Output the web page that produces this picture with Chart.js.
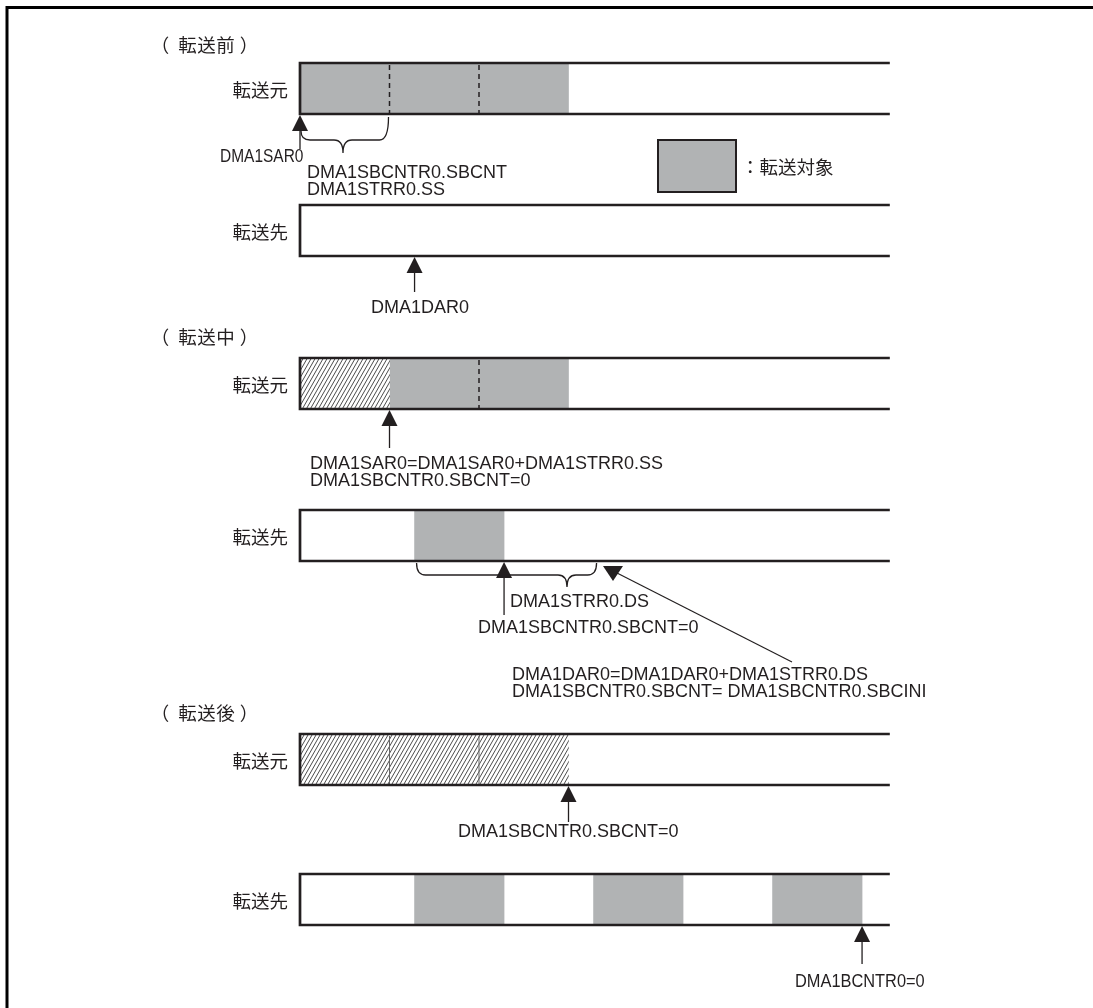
<!DOCTYPE html>
<html><head><meta charset="utf-8">
<script src="https://cdn.jsdelivr.net/npm/chart.js@4.4.1/dist/chart.umd.min.js"></script>
<style>html,body{margin:0;padding:0;background:#fff;}canvas{display:block;}</style>
</head><body>
<canvas id="c" width="1093" height="1008"></canvas>
<script>
// ---------------- data ----------------
const stageTitles = ['（転送前）', '（転送中）', '（転送後）'];
const rowLabels = ['転送元', '転送先'];
const blockSize = 1;                  // DMA1STRR0.SS (address units)
const dstStride = 2;                  // DMA1STRR0.DS
const memoryEnd = 6.59;               // visible end of each memory strip
const srcBlockStarts = [0, 1, 2];     // source blocks
const srcDoneCount = [0, 1, 3];       // blocks already transferred in each stage
const dstBlockStarts = [[], [1.28], [1.28, 3.28, 5.28]];
const legendLabel = '：転送対象';

// ---------------- layout ----------------
const W = 1093, H = 1008;
const originPx = 300, unitPx = 89.5;
const rowTops = [[63, 205], [358, 510], [734, 874]];
const rowH = 51;
const titleY = [45, 337, 713];
const INK = '#231f20';
const GRAY = '#b1b3b4';
const LAT = '18px "Liberation Sans", Arial, sans-serif';
const CJK = '18.5px "Noto Sans CJK JP", sans-serif';

// up-arrows: address (x scale), stage/row, stem length
const arrowsUp = [
  {s: 0, r: 0, addr: srcBlockStarts[0], len: 34},
  {s: 0, r: 1, addr: dstBlockStarts[1][0], len: 35},
  {s: 1, r: 0, addr: srcBlockStarts[1], len: 38},
  {s: 1, r: 1, addr: dstBlockStarts[1][0] + blockSize, len: 53},
  {s: 2, r: 0, addr: srcBlockStarts[2] + blockSize, len: 36},
  {s: 2, r: 1, addr: dstBlockStarts[2][2] + blockSize, len: 38}
];
// texts: [text, x(px), y(px), align, horizontal scale]
const notes = [
  ['DMA1SAR0', 220, 157, 'left', 0.86],
  ['DMA1SBCNTR0.SBCNT', 307, 173, 'left', 1],
  ['DMA1STRR0.SS', 307, 190, 'left', 1],
  ['DMA1DAR0', 420, 308, 'center', 1],
  ['DMA1SAR0=DMA1SAR0+DMA1STRR0.SS', 310, 464, 'left', 1],
  ['DMA1SBCNTR0.SBCNT=0', 310, 481, 'left', 1],
  ['DMA1STRR0.DS', 510, 602, 'left', 1],
  ['DMA1SBCNTR0.SBCNT=0', 478, 628, 'left', 1],
  ['DMA1DAR0=DMA1DAR0+DMA1STRR0.DS', 512, 675, 'left', 1],
  ['DMA1SBCNTR0.SBCNT= DMA1SBCNTR0.SBCINI', 512, 692, 'left', 1],
  ['DMA1SBCNTR0.SBCNT=0', 458, 832, 'left', 1],
  ['DMA1BCNTR0=0', 795, 982, 'left', 0.91]
];

// hatch pattern
function makeHatch() {
  const w = 4, h = 7;
  const c = document.createElement('canvas');
  c.width = w; c.height = h;
  const g = c.getContext('2d');
  g.fillStyle = '#fff'; g.fillRect(0, 0, w, h);
  g.strokeStyle = '#2a2a2a'; g.lineWidth = 0.85;
  g.beginPath();
  g.moveTo(0, h); g.lineTo(w, 0);
  g.moveTo(-w, h); g.lineTo(0, 0);
  g.moveTo(w, h); g.lineTo(2 * w, 0);
  g.stroke();
  return g.createPattern(c, 'repeat');
}

// build bar data
const grayData = [], hatchData = [];
stageTitles.forEach((_, s) => {
  const done = srcDoneCount[s];
  const ySrc = rowTops[s][0] + rowH / 2, yDst = rowTops[s][1] + rowH / 2;
  if (done > 0) hatchData.push({x: [srcBlockStarts[0], srcBlockStarts[done - 1] + blockSize], y: ySrc});
  if (done < srcBlockStarts.length) grayData.push({x: [srcBlockStarts[done], srcBlockStarts[srcBlockStarts.length - 1] + blockSize], y: ySrc});
  dstBlockStarts[s].forEach(a => grayData.push({x: [a, a + blockSize], y: yDst}));
});

function brace(ctx, xL, yL, xR, yR, yBar, xTip, yTip, r) {
  ctx.beginPath();
  ctx.moveTo(xL, yL);
  ctx.quadraticCurveTo(xL, yBar, xL + r, yBar);
  ctx.lineTo(xTip - r, yBar);
  ctx.quadraticCurveTo(xTip, yBar, xTip, yTip);
  ctx.quadraticCurveTo(xTip, yBar, xTip + r, yBar);
  ctx.lineTo(xR - r, yBar);
  ctx.quadraticCurveTo(xR, yBar, xR, yR);
  ctx.stroke();
}

const diagram = {
  id: 'diagram',
  afterDatasetsDraw(chart) {
    const ctx = chart.ctx;
    const X = v => chart.scales.x.getPixelForValue(v);
    const P = v => chart.scales.xp.getPixelForValue(v);
    const Y = v => chart.scales.y.getPixelForValue(v);
    ctx.save();
    // frame
    ctx.strokeStyle = '#000'; ctx.lineWidth = 3;
    ctx.beginPath(); ctx.moveTo(P(7), Y(H)); ctx.lineTo(P(7), Y(7.5)); ctx.lineTo(P(W), Y(7.5)); ctx.stroke();

    // dashed separators in source strips
    stageTitles.forEach((_, s) => {
      const top = rowTops[s][0];
      srcBlockStarts.slice(1).forEach(a => {
        const done = srcDoneCount[s];
        if (a === srcBlockStarts[done]) return; // edge between hatched and gray
        ctx.save();
        if (done === srcBlockStarts.length) { ctx.strokeStyle = '#666'; ctx.lineWidth = 1; ctx.setLineDash([]); }
        else { ctx.strokeStyle = INK; ctx.lineWidth = 1.5; ctx.setLineDash([5, 4]); }
        ctx.beginPath(); ctx.moveTo(X(a), Y(top + 2)); ctx.lineTo(X(a), Y(top + rowH - 1)); ctx.stroke();
        ctx.restore();
      });
    });

    // strip outlines
    ctx.strokeStyle = INK; ctx.lineWidth = 2.7; ctx.lineJoin = 'miter';
    rowTops.forEach(pair => pair.forEach(top => {
      ctx.beginPath();
      ctx.moveTo(X(memoryEnd), Y(top));
      ctx.lineTo(X(0), Y(top));
      ctx.lineTo(X(0), Y(top + rowH));
      ctx.lineTo(X(memoryEnd), Y(top + rowH));
      ctx.stroke();
    }));

    // titles (parens spaced apart like the original) & row labels
    ctx.fillStyle = INK; ctx.font = CJK; ctx.textBaseline = 'middle';
    stageTitles.forEach((t, s) => {
      const chars = Array.from(t);
      const y = Y(titleY[s]);
      ctx.textAlign = 'center';
      ctx.fillText(chars[0], P(160), y);
      chars.slice(1, -1).forEach((ch, i) => ctx.fillText(ch, P(187.5 + i * 19), y));
      ctx.fillText(chars[chars.length - 1], P(249), y);
      ctx.textAlign = 'right';
      rowLabels.forEach((l, r) => ctx.fillText(l, P(288), Y(rowTops[s][r] + rowH / 2 + 1)));
    });

    // legend
    ctx.fillStyle = GRAY; ctx.fillRect(P(658), Y(140), P(736) - P(658), Y(192) - Y(140));
    ctx.strokeStyle = INK; ctx.lineWidth = 2; ctx.strokeRect(P(658), Y(140), P(736) - P(658), Y(192) - Y(140));
    ctx.fillStyle = INK; ctx.textAlign = 'left'; ctx.fillText(legendLabel, P(741), Y(167));

    // up arrows
    ctx.fillStyle = INK; ctx.strokeStyle = INK;
    arrowsUp.forEach(a => {
      const x = X(a.addr), tip = Y(rowTops[a.s][a.r] + rowH + 1);
      ctx.beginPath(); ctx.moveTo(x, tip); ctx.lineTo(x - 8, tip + 16); ctx.lineTo(x + 8, tip + 16); ctx.closePath(); ctx.fill();
      ctx.lineWidth = 1.3; ctx.beginPath(); ctx.moveTo(x, tip + 14); ctx.lineTo(x, tip + a.len); ctx.stroke();
    });

    // braces
    ctx.lineWidth = 1.3;
    brace(ctx, X(srcBlockStarts[0]) + 1, Y(131), X(srcBlockStarts[0] + blockSize) - 1, Y(117), Y(140), P(343), Y(153), 9);
    const d0 = dstBlockStarts[1][0];
    brace(ctx, X(d0) + 2, Y(563), X(d0 + dstStride) + 3, Y(563), Y(575), P(567), Y(587), 9);

    // down arrow with leader line
    ctx.beginPath(); ctx.moveTo(P(603), Y(566)); ctx.lineTo(P(623), Y(566)); ctx.lineTo(P(613), Y(581)); ctx.closePath(); ctx.fill();
    ctx.lineWidth = 1.2; ctx.beginPath(); ctx.moveTo(P(617), Y(573)); ctx.lineTo(P(792), Y(662)); ctx.stroke();

    // notes
    ctx.font = LAT; ctx.fillStyle = INK; ctx.textBaseline = 'middle';
    notes.forEach(([t, x, y, al, sx]) => {
      ctx.save();
      ctx.translate(P(x), Y(y));
      ctx.scale(sx, 1);
      ctx.textAlign = al;
      ctx.fillText(t, 0, 0);
      ctx.restore();
    });
    ctx.restore();
  }
};

new Chart(document.getElementById('c'), {
  type: 'bar',
  data: {
    datasets: [
      {label: 'hatched', data: hatchData, backgroundColor: makeHatch(), borderWidth: 0, barThickness: rowH, stack: 'm', xAxisID: 'x', yAxisID: 'y'},
      {label: 'target', data: grayData, backgroundColor: GRAY, borderWidth: 0, barThickness: rowH, stack: 'm', xAxisID: 'x', yAxisID: 'y'}
    ]
  },
  options: {
    indexAxis: 'y',
    responsive: false,
    animation: false,
    events: [],
    layout: {padding: 0},
    plugins: {legend: {display: false}, tooltip: {enabled: false}},
    scales: {
      x: {type: 'linear', display: false, stacked: false, offset: false, min: -originPx / unitPx, max: (W - originPx) / unitPx},
      xp: {type: 'linear', display: false, axis: 'x', offset: false, min: 0, max: W},
      y: {type: 'linear', display: false, offset: false, reverse: true, min: 0, max: H}
    }
  },
  plugins: [diagram]
});
</script>
</body></html>
